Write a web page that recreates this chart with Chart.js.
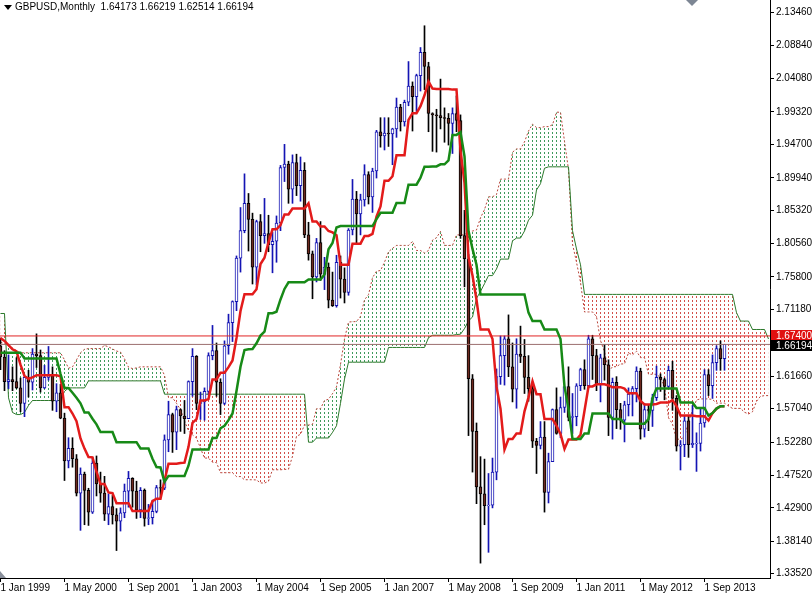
<!DOCTYPE html>
<html lang="en">
<head>
    <meta charset="UTF-8">
    <title>GBPUSD,Monthly</title>
    <script src="https://cdn.jsdelivr.net/npm/chart.js"></script>
    <style>
        body {
            margin: 0;
            background: #fff;
        }
        #wrap {
            position: relative;
            width: 812px;
            height: 594px;
            overflow: hidden;
        }
        #title {
            position: absolute;
            left: 15px;
            top: 1px;
            font: 10px "Liberation Sans", Arial, sans-serif;
            line-height: 12px;
            color: #000;
            white-space: pre;
        }
        .tri {
            position: absolute;
            width: 0;
            height: 0;
        }
        #menuTri {
            left: 4px;
            top: 5px;
            border-left: 4px solid transparent;
            border-right: 4px solid transparent;
            border-top: 5px solid #000;
        }
        #shiftTri {
            left: 686px;
            top: 0;
            border-left: 6px solid transparent;
            border-right: 6px solid transparent;
            border-top: 6px solid #7d8694;
        }
        #cornerTri {
            left: 0;
            top: 571px;
            border-bottom: 7px solid #8a909c;
            border-right: 6px solid transparent;
        }
    </style>
</head>
<body>
<div id="wrap">
    <canvas id="chart" width="812" height="594"></canvas>
    <div class="tri" id="menuTri"></div>
    <div id="title">GBPUSD,Monthly  1.64173 1.66219 1.62514 1.66194</div>
    <div class="tri" id="shiftTri"></div>
    <div class="tri" id="cornerTri"></div>
</div>

<script>
    // monthly bars, Jan 1999 .. Feb 2014 (index = months since Jan 1999)
    const open = [
        1.6600,1.6440,1.6090,1.6120,1.6090,1.6000,1.5780,1.6150,1.6080,1.6480,1.6460,1.6000,
        1.6150,1.6170,1.5810,1.5930,1.5570,1.4960,1.5140,1.4990,1.4500,1.4770,1.4540,1.4230,
        1.4930,1.4630,1.4500,1.4200,1.4310,1.4190,1.4100,1.4220,1.4530,1.4710,1.4530,1.4260,
        1.4540,1.4140,1.4150,1.4240,1.4580,1.4570,1.5260,1.5620,1.5370,1.5690,1.5600,1.5560,
        1.6090,1.6450,1.5780,1.5800,1.5950,1.6460,1.6530,1.6080,1.5780,1.6600,1.6930,1.7230,
        1.7850,1.8240,1.8630,1.8400,1.7720,1.8370,1.8170,1.8200,1.8040,1.8090,1.8350,1.9140,
        1.9190,1.8830,1.9210,1.8880,1.9100,1.8180,1.7910,1.7580,1.8070,1.7620,1.7720,1.7250,
        1.7170,1.7790,1.7550,1.7360,1.8250,1.8690,1.8480,1.8680,1.9040,1.8720,1.9090,1.9650,
        1.9590,1.9630,1.9620,1.9690,2.0000,1.9790,2.0070,2.0300,2.0150,2.0450,2.0780,2.0580,
        1.9910,1.9890,1.9880,1.9850,1.9840,1.9770,1.9910,1.9810,1.8170,1.7840,1.6130,1.5380,
        1.4590,1.4490,1.4320,1.4330,1.4800,1.6160,1.6460,1.6700,1.6300,1.5980,1.6480,1.6450,
        1.6150,1.5990,1.5240,1.5180,1.5300,1.4510,1.4950,1.5690,1.5350,1.5720,1.6020,1.5580,
        1.5590,1.6030,1.6260,1.6030,1.6700,1.6460,1.6050,1.6430,1.6330,1.5580,1.6080,1.5690,
        1.5540,1.5760,1.5910,1.5990,1.6240,1.5410,1.5690,1.5680,1.5860,1.6150,1.6120,1.6020,
        1.6250,1.5850,1.5170,1.5190,1.5530,1.5190,1.5200,1.5210,1.5500,1.6190,1.6030,1.6360,
        1.6560,1.64173
    ];
    const high = [
        1.6710,1.6530,1.6470,1.6300,1.6430,1.6140,1.6160,1.6250,1.6560,1.6770,1.6540,1.6320,
        1.6590,1.6300,1.6060,1.6050,1.5640,1.5290,1.5290,1.5050,1.4860,1.4800,1.4570,1.5010,
        1.5030,1.4800,1.4740,1.4490,1.4470,1.4280,1.4290,1.4630,1.4810,1.4720,1.4670,1.4580,
        1.4560,1.4340,1.4400,1.4610,1.4690,1.5330,1.5810,1.5640,1.5740,1.5700,1.5820,1.6100,
        1.6560,1.6460,1.5940,1.6000,1.6500,1.6890,1.6640,1.6130,1.6670,1.7050,1.7240,1.7880,
        1.8570,1.9050,1.8770,1.8490,1.8390,1.8470,1.8700,1.8460,1.8220,1.8450,1.9170,1.9470,
        1.9230,1.9320,1.9330,1.9290,1.9210,1.8360,1.7950,1.8130,1.8370,1.7860,1.7780,1.7650,
        1.7890,1.7880,1.7710,1.8270,1.8970,1.8800,1.8760,1.9180,1.9080,1.9130,1.9670,1.9850,
        1.9850,1.9850,1.9700,2.0130,2.0040,2.0100,2.0650,2.0360,2.0470,2.0850,2.1160,2.0640,
        1.9920,1.9970,2.0400,1.9990,1.9910,1.9990,2.0160,1.9890,1.8530,1.7900,1.6190,1.5500,
        1.5020,1.4985,1.4780,1.5000,1.6270,1.6740,1.6740,1.7040,1.6640,1.6700,1.6880,1.6690,
        1.6460,1.6030,1.5280,1.5520,1.5520,1.5070,1.5700,1.6000,1.5870,1.6000,1.6300,1.5920,
        1.6060,1.6280,1.6400,1.6750,1.6750,1.6550,1.6480,1.6620,1.6400,1.6140,1.6160,1.5780,
        1.5810,1.6000,1.6020,1.6300,1.6280,1.5780,1.5760,1.5910,1.6310,1.6200,1.6140,1.6310,
        1.6380,1.5890,1.5250,1.5600,1.5600,1.5750,1.5360,1.5720,1.6260,1.6260,1.6470,1.6600,
        1.6670,1.66219
    ];
    const low = [
        1.6260,1.5960,1.5990,1.5960,1.5990,1.5660,1.5590,1.5870,1.5970,1.6290,1.5940,1.5990,
        1.6110,1.5680,1.5660,1.5560,1.4680,1.4860,1.4870,1.4460,1.3970,1.4050,1.4040,1.4210,
        1.4460,1.4370,1.4110,1.4050,1.4060,1.3682,1.3960,1.4150,1.4300,1.4300,1.4140,1.4150,
        1.4030,1.4050,1.4060,1.4220,1.4440,1.4550,1.5090,1.5080,1.5120,1.5380,1.5350,1.5560,
        1.5880,1.5690,1.5550,1.5540,1.5900,1.6400,1.5880,1.5620,1.5760,1.6480,1.6660,1.7100,
        1.7650,1.8210,1.7950,1.7480,1.7470,1.7940,1.8060,1.7940,1.7640,1.7790,1.8240,1.8940,
        1.8630,1.8630,1.8740,1.8660,1.8140,1.7820,1.7270,1.7510,1.7530,1.7400,1.7140,1.7160,
        1.7150,1.7280,1.7210,1.7320,1.8180,1.8050,1.8180,1.8590,1.8620,1.8500,1.8990,1.9430,
        1.9390,1.9440,1.9180,1.9570,1.9660,1.9730,2.0020,1.9660,1.9940,2.0230,2.0250,1.9650,
        1.9370,1.9360,1.9690,1.9500,1.9460,1.9340,1.9650,1.8130,1.7440,1.5320,1.4800,1.4350,
        1.3503,1.4050,1.3657,1.4290,1.4690,1.6050,1.6040,1.6160,1.5800,1.5710,1.6360,1.5920,
        1.5810,1.5150,1.4780,1.5130,1.4230,1.4360,1.4950,1.5340,1.5290,1.5650,1.5530,1.5350,
        1.5460,1.5960,1.5980,1.6000,1.6120,1.5960,1.5800,1.6110,1.5320,1.5270,1.5420,1.5410,
        1.5230,1.5600,1.5600,1.5800,1.5270,1.5300,1.5390,1.5450,1.5820,1.5950,1.5830,1.6000,
        1.5680,1.5100,1.4830,1.5020,1.5010,1.5150,1.4810,1.5100,1.5440,1.5890,1.5850,1.6250,
        1.6250,1.62514
    ];
    const close = [
        1.6440,1.6090,1.6120,1.6090,1.6000,1.5780,1.6150,1.6080,1.6480,1.6460,1.6000,1.6150,
        1.6170,1.5810,1.5930,1.5570,1.4960,1.5140,1.4990,1.4500,1.4770,1.4540,1.4230,1.4930,
        1.4630,1.4500,1.4200,1.4310,1.4190,1.4100,1.4220,1.4530,1.4710,1.4530,1.4260,1.4540,
        1.4140,1.4150,1.4240,1.4580,1.4570,1.5260,1.5620,1.5370,1.5690,1.5600,1.5560,1.6090,
        1.6450,1.5780,1.5800,1.5950,1.6460,1.6530,1.6080,1.5780,1.6600,1.6930,1.7230,1.7850,
        1.8240,1.8630,1.8400,1.7720,1.8370,1.8170,1.8200,1.8040,1.8090,1.8350,1.9140,1.9190,
        1.8830,1.9210,1.8880,1.9100,1.8180,1.7910,1.7580,1.8070,1.7620,1.7720,1.7250,1.7170,
        1.7790,1.7550,1.7360,1.8250,1.8690,1.8480,1.8680,1.9040,1.8720,1.9090,1.9650,1.9590,
        1.9630,1.9620,1.9690,2.0000,1.9790,2.0070,2.0300,2.0150,2.0450,2.0780,2.0580,1.9910,
        1.9890,1.9880,1.9850,1.9840,1.9770,1.9910,1.9810,1.8170,1.7840,1.6130,1.5380,1.4590,
        1.4490,1.4320,1.4330,1.4800,1.6160,1.6460,1.6700,1.6300,1.5980,1.6480,1.6450,1.6150,
        1.5990,1.5240,1.5180,1.5300,1.4510,1.4950,1.5690,1.5350,1.5720,1.6020,1.5580,1.5590,
        1.6030,1.6260,1.6030,1.6700,1.6460,1.6050,1.6430,1.6330,1.5580,1.6080,1.5690,1.5540,
        1.5760,1.5910,1.5990,1.6240,1.5410,1.5690,1.5680,1.5860,1.6150,1.6120,1.6020,1.6250,
        1.5850,1.5170,1.5190,1.5530,1.5190,1.5210,1.5210,1.5500,1.6190,1.6030,1.6360,1.6560,
        1.64173,1.66194
    ];

    // Ichimoku lines
    const tenkan = [
        1.671,1.667,1.661,1.655,1.652,1.633,1.617,1.613,1.615,1.618,1.618,1.618,
        1.618,1.618,1.618,1.6165,1.5725,1.5725,1.5635,1.5525,1.528,1.5135,1.5015,1.501,
        1.4805,1.463,1.463,1.451,1.45,1.4356,1.4356,1.4356,1.4356,1.4246,1.4246,1.4246,
        1.4246,1.4246,1.4385,1.442,1.442,1.468,1.492,1.492,1.492,1.493,1.4935,1.516,
        1.55,1.5555,1.582,1.582,1.584,1.612,1.612,1.6215,1.6215,1.6295,1.639,1.671,
        1.7095,1.7335,1.7335,1.7335,1.7405,1.7765,1.7855,1.8075,1.826,1.826,1.832,1.847,
        1.847,1.8555,1.8555,1.8555,1.8555,1.863,1.837,1.837,1.83,1.83,1.8235,1.8215,
        1.8175,1.7755,1.7755,1.7755,1.8055,1.8055,1.8055,1.8165,1.8165,1.8195,1.844,1.8585,
        1.895,1.895,1.9015,1.9315,1.9315,1.9315,1.982,1.9915,1.9915,2.0015,2.017,2.0365,
        2.0265,2.026,2.026,2.026,2.026,2.025,2.025,1.9385,1.892,1.786,1.76,1.7255,
        1.6832,1.6832,1.6832,1.6697,1.6017,1.5702,1.5122,1.5272,1.5272,1.5349,1.5349,1.5665,
        1.5865,1.6095,1.591,1.591,1.5555,1.5555,1.5555,1.546,1.5345,1.513,1.5265,1.5265,
        1.5265,1.533,1.5675,1.602,1.602,1.605,1.605,1.605,1.6035,1.601,1.601,1.601,
        1.599,1.5925,1.5925,1.5925,1.5815,1.5765,1.5765,1.5765,1.577,1.579,1.579,1.579,
        1.5825,1.574,1.5605,1.5605,1.5605,1.5605,1.5595,1.5595,1.5595,1.5535,1.564,1.5705,
        1.574,1.574
    ];
    const kijun = [
        1.650,1.650,1.650,1.650,1.650,1.650,1.642,1.642,1.642,1.642,1.642,1.642,
        1.642,1.642,1.642,1.620,1.600,1.600,1.593,1.586,1.578,1.565,1.565,1.556,
        1.548,1.537,1.537,1.537,1.537,1.5226,1.5226,1.5226,1.5226,1.5226,1.5226,1.5136,
        1.5136,1.5136,1.4991,1.4871,1.4866,1.4661,1.4746,1.4746,1.4746,1.4746,1.4746,1.4891,
        1.5121,1.5121,1.5121,1.5121,1.5121,1.5286,1.5286,1.5425,1.5460,1.5540,1.5635,1.5955,
        1.6300,1.6540,1.6550,1.6555,1.6635,1.6745,1.6800,1.7065,1.7065,1.7085,1.7260,1.7410,
        1.7505,1.7505,1.7505,1.7505,1.7505,1.7545,1.7545,1.7545,1.7545,1.7615,1.7975,1.8065,
        1.8285,1.8305,1.8305,1.8305,1.8305,1.8305,1.8305,1.8305,1.8305,1.8305,1.8405,1.8495,
        1.8495,1.8495,1.8495,1.8635,1.8635,1.8635,1.8895,1.8895,1.8895,1.8995,1.9150,1.9150,
        1.9155,1.9155,1.9185,1.9185,1.9240,1.9605,1.9605,1.9645,1.9300,1.8240,1.7980,1.7755,
        1.7332,1.7332,1.7332,1.7332,1.7332,1.7332,1.7332,1.7332,1.7332,1.7332,1.7332,1.7332,
        1.7072,1.6952,1.6952,1.6952,1.6832,1.6832,1.6832,1.6832,1.6697,1.6017,1.5702,1.5272,
        1.5272,1.5272,1.5349,1.5349,1.5635,1.5635,1.5635,1.5635,1.5635,1.5555,1.5555,1.5555,
        1.5490,1.5490,1.5490,1.5490,1.5490,1.5490,1.5555,1.5850,1.5990,1.5990,1.5990,1.5990,
        1.5990,1.5990,1.5790,1.5790,1.5790,1.5790,1.5715,1.5715,1.5715,1.5605,1.5640,1.5705,
        1.5740,1.5740
    ];
    // cloud edges run 11 months past the last bar, to the right edge
    const spanA = [
        1.665,1.663,1.660,1.657,1.653,1.650,1.650,1.650,1.650,1.650,1.650,1.650,
        1.650,1.650,1.650,1.650,1.640,1.628,1.630,1.640,1.650,1.655,1.656,1.656,
        1.656,1.656,1.6605,1.6585,1.6555,1.6525,1.651,1.6415,1.6295,1.6275,1.6285,1.630,
        1.630,1.630,1.630,1.630,1.630,1.618,1.586,1.586,1.578,1.569,1.553,1.539,
        1.533,1.5285,1.514,1.500,1.500,1.494,1.4935,1.4791,1.4791,1.4791,1.4791,1.4736,
        1.4736,1.4691,1.4691,1.4691,1.4688,1.4646,1.4643,1.4671,1.4833,1.4833,1.4833,1.4838,
        1.4841,1.5026,1.5311,1.5338,1.5471,1.5471,1.5481,1.5703,1.5703,1.582,1.5838,1.5918,
        1.6013,1.6333,1.6698,1.6938,1.6943,1.6945,1.702,1.7255,1.7328,1.757,1.7663,1.7673,
        1.779,1.794,1.7988,1.803,1.803,1.803,1.803,1.8088,1.7958,1.7958,1.7923,1.7958,
        1.8105,1.814,1.823,1.803,1.803,1.803,1.818,1.818,1.818,1.8235,1.8235,1.825,
        1.8423,1.854,1.8723,1.8723,1.8755,1.8975,1.8975,1.8975,1.9358,1.9405,1.9405,1.9505,
        1.966,1.9758,1.971,1.9708,1.9723,1.9723,1.975,1.9928,1.9928,1.9515,1.911,1.805,
        1.779,1.7505,1.7082,1.7082,1.7082,1.7015,1.6675,1.6517,1.6227,1.6302,1.6302,1.6341,
        1.6341,1.6499,1.6469,1.6524,1.6431,1.6431,1.6194,1.6194,1.6194,1.6146,1.6021,1.5574,
        1.5484,1.5269,1.5269,1.5301,1.5512,1.5685,1.5828,1.5843,1.5843,1.5843,1.5835,1.5783,
        1.5783,1.5783,1.574,1.5708,1.5708,1.5708,1.5653,1.5628,1.566,1.5808,1.588,1.589,
        1.589
    ];
    const spanB = [
        1.706,1.706,1.586,1.565,1.562,1.562,1.565,1.575,1.582,1.582,1.582,1.582,
        1.582,1.582,1.582,1.582,1.595,1.600,1.600,1.600,1.600,1.600,1.610,1.610,
        1.610,1.610,1.610,1.610,1.610,1.610,1.610,1.610,1.610,1.610,1.610,1.610,
        1.610,1.610,1.610,1.610,1.610,1.591,1.591,1.591,1.591,1.591,1.591,1.591,
        1.591,1.591,1.591,1.591,1.591,1.591,1.591,1.591,1.591,1.591,1.591,1.591,
        1.591,1.591,1.591,1.591,1.591,1.591,1.591,1.591,1.591,1.591,1.591,1.591,
        1.591,1.591,1.591,1.591,1.591,1.5226,1.5226,1.5286,1.5286,1.5286,1.5286,1.5366,
        1.5461,1.5781,1.6126,1.6366,1.6366,1.6366,1.6366,1.6366,1.6366,1.6366,1.6366,1.6366,
        1.6366,1.6576,1.6576,1.6576,1.6576,1.6576,1.6576,1.6576,1.6576,1.6576,1.6576,1.6715,
        1.6750,1.6750,1.6750,1.6750,1.6750,1.6750,1.6760,1.6765,1.6845,1.6955,1.7010,1.7275,
        1.7375,1.7485,1.7600,1.7600,1.7695,1.7835,1.7835,1.7835,1.8095,1.8135,1.8135,1.8235,
        1.8390,1.8460,1.8820,1.8910,1.9130,1.9150,1.9150,1.9150,1.9150,1.9150,1.9150,1.8240,
        1.7980,1.7755,1.7332,1.7332,1.7332,1.7332,1.7332,1.7332,1.7332,1.7332,1.7332,1.7332,
        1.7332,1.7332,1.7332,1.7332,1.7332,1.7332,1.7332,1.7332,1.7332,1.7332,1.7332,1.7332,
        1.7332,1.7332,1.7332,1.7332,1.7332,1.7332,1.7332,1.7332,1.7332,1.7332,1.7332,1.7332,
        1.7332,1.7332,1.7332,1.7332,1.7072,1.6952,1.6952,1.6952,1.6832,1.6832,1.6832,1.6832,
        1.6697
    ];

    const xTickMonths = [0, 16, 32, 48, 64, 80, 96, 112, 128, 144, 160, 176];
    const xTickLabels = ['1 Jan 1999', '1 May 2000', '1 Sep 2001', '1 Jan 2003', '1 May 2004', '1 Sep 2005',
                         '1 Jan 2007', '1 May 2008', '1 Sep 2009', '1 Jan 2011', '1 May 2012', '1 Sep 2013'];
    const yTickLabels = [2.13460, 2.08840, 2.04080, 1.99320, 1.94700, 1.89940, 1.85320, 1.80560, 1.75800,
                         1.71180, 1.66420, 1.61660, 1.57040, 1.52280, 1.47520, 1.42900, 1.38140, 1.33520];
    const levelPrice = 1.67400;
    const bidPrice = 1.66194;

    const xMin = -0.125, xMax = 192.375;
    const yMin = 1.3291, yMax = 2.1527;
    const FONT = '"Liberation Sans", Arial, sans-serif';

    const canvas = document.getElementById('chart');
    const ctx = canvas.getContext('2d');

    // vertical dotted hatching like the MT4 kumo histogram
    function dotPattern(color) {
        const c = document.createElement('canvas');
        c.width = 4;
        c.height = 4;
        const g = c.getContext('2d');
        g.fillStyle = color;
        g.fillRect(0, 0, 1, 2);
        return ctx.createPattern(c, 'repeat');
    }

    const pts = arr => arr.map((v, i) => ({x: i, y: v}));
    const isUp = close.map((c, i) => c >= open[i]);
    const UP = '#1414b4', DOWN = '#000000';

    const priceTags = {
        id: 'priceTags',
        afterDraw(chart) {
            const {ctx, chartArea, scales} = chart;
            const tags = [[levelPrice, '#e01010', -6], [bidPrice, '#000000', -4]];
            ctx.save();
            ctx.font = '10px ' + FONT;
            ctx.textBaseline = 'middle';
            tags.forEach(([v, bg, off]) => {
                const py = Math.round(scales.y.getPixelForValue(v));
                ctx.fillStyle = bg;
                ctx.fillRect(chartArea.right + 1, py + off, 42, 11);
                ctx.fillStyle = '#ffffff';
                ctx.fillText(v.toFixed(5), chartArea.right + 6, py + off + 6);
            });
            ctx.restore();
        }
    };

    Chart.defaults.font.family = FONT;
    Chart.defaults.font.size = 10;
    Chart.defaults.color = '#000';

    new Chart(ctx, {
        type: 'bar',
        data: {
            datasets: [
                {
                    type: 'line', label: 'Senkou Span B', data: pts(spanB),
                    borderColor: '#2c7a2c', borderWidth: 1, pointRadius: 0, fill: false, order: 9
                },
                {
                    type: 'line', label: 'Senkou Span A', data: pts(spanA),
                    borderColor: '#b8453a', borderWidth: 1, borderDash: [2, 2], pointRadius: 0, order: 10,
                    fill: {target: 0, above: dotPattern('#3f9a5c'), below: dotPattern('#d2504a')}
                },
                {
                    type: 'line', label: 'level', data: [{x: xMin, y: levelPrice}, {x: xMax, y: levelPrice}],
                    borderColor: '#e02424', borderWidth: 1, pointRadius: 0, order: 3
                },
                {
                    type: 'line', label: 'bid', data: [{x: xMin, y: bidPrice}, {x: xMax, y: bidPrice}],
                    borderColor: '#9c6e6e', borderWidth: 1, pointRadius: 0, order: 3
                },
                {
                    type: 'bar', label: 'wicks', data: open.map((o, i) => ({x: i, y: [low[i], high[i]]})),
                    backgroundColor: isUp.map(u => u ? UP : DOWN), borderWidth: 0,
                    barThickness: 1, maxBarThickness: 1, grouped: false, order: 6
                },
                {
                    type: 'bar', label: 'bodies', data: open.map((o, i) => ({x: i, y: [o, close[i]]})),
                    backgroundColor: isUp.map(u => u ? '#ffffff' : '#6e2a20'),
                    borderColor: isUp.map(u => u ? UP : DOWN), borderWidth: 1, borderSkipped: false,
                    barThickness: 3, maxBarThickness: 3, grouped: false, order: 5
                },
                {
                    type: 'line', label: 'Tenkan-sen', data: pts(tenkan),
                    borderColor: '#e31b1b', borderWidth: 2.5, pointRadius: 0, fill: false, order: 2
                },
                {
                    type: 'line', label: 'Kijun-sen', data: pts(kijun),
                    borderColor: '#178a17', borderWidth: 2.5, pointRadius: 0, fill: false, order: 1
                }
            ]
        },
        options: {
            responsive: false,
            devicePixelRatio: 1,
            animation: false,
            layout: {padding: 0},
            plugins: {
                legend: {display: false},
                tooltip: {enabled: false}
            },
            scales: {
                x: {
                    type: 'linear', position: 'bottom', min: xMin, max: xMax, offset: false,
                    afterBuildTicks: s => { s.ticks = xTickMonths.map(v => ({value: v})); },
                    afterFit: s => { s.height = 16; s.paddingLeft = 0; s.paddingRight = 0; },
                    ticks: {
                        autoSkip: false, maxRotation: 0, minRotation: 0, align: 'start', padding: 0,
                        color: '#000', font: {size: 10},
                        callback: v => xTickLabels[xTickMonths.indexOf(v)]
                    },
                    grid: {drawOnChartArea: false, drawTicks: true, tickLength: 4, color: '#000', offset: false},
                    border: {display: true, color: '#000'}
                },
                y: {
                    type: 'linear', position: 'right', min: yMin, max: yMax,
                    afterBuildTicks: s => { s.ticks = yTickLabels.map(v => ({value: v})); },
                    afterFit: s => { s.width = 42; s.paddingTop = 0; s.paddingBottom = 0; },
                    ticks: {
                        autoSkip: false, padding: 2, color: '#000', font: {size: 10},
                        callback: v => v.toFixed(5)
                    },
                    grid: {drawOnChartArea: false, drawTicks: true, tickLength: 4, color: '#000'},
                    border: {display: true, color: '#000'}
                }
            }
        },
        plugins: [priceTags]
    });
</script>
</body>
</html>
